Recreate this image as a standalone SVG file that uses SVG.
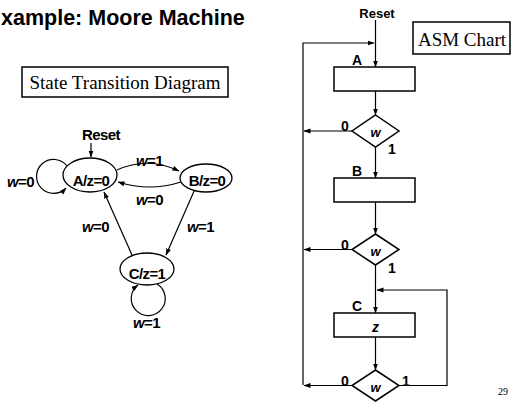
<svg xmlns="http://www.w3.org/2000/svg" width="513" height="406" viewBox="0 0 513 406">
<defs>
<marker id="ah" markerWidth="7" markerHeight="6" refX="6.5" refY="3" orient="auto" markerUnits="userSpaceOnUse">
<path d="M0,0.5 L7,3 L0,5.5 Z" fill="#000"/>
</marker>
</defs>
<style>
.ln{fill:none;stroke:#000;stroke-width:1.2}
.bx{fill:#fff;stroke:#000;stroke-width:1.5}
.st{fill:#fff;stroke:#000;stroke-width:1.3}
.ar{marker-end:url(#ah)}
.t{font-family:"Liberation Sans",Arial,sans-serif;font-weight:bold;fill:#000}
.s{font-size:15px;letter-spacing:-0.6px}
.a{font-size:14px}
.tm{font-family:"Liberation Serif","Times New Roman",serif;fill:#000}
.i{font-style:italic}
.m{text-anchor:middle}
</style>
<rect width="513" height="406" fill="#fff"/>
<text class="t" x="1" y="25" font-size="21.5">xample: Moore Machine</text>

<g id="std-title">
<rect x="22" y="67" width="206" height="30" fill="#fff" stroke="#000" stroke-width="1.5"/>
<text class="tm m" x="125" y="89" font-size="19">State Transition Diagram</text>
</g>

<g id="state-connectors">
<text class="t s m" x="101" y="140">Reset</text>
<path class="ln ar" d="M91,143 V157"/>
<path class="ln ar" d="M67,166 A17,17 0 1 0 66,188"/>
<path class="ln ar" d="M117,170 Q148,156 179,171"/>
<path class="ln ar" d="M181,182 Q150,192 118,182"/>
<path class="ln ar" d="M195,189 L166,255"/>
<path class="ln ar" d="M132,255 L104,192"/>
<path class="ln ar" d="M157,284 A17,17 0 1 1 138,285"/>
</g>
<g id="state-labels">
<text class="t s" x="7" y="187"><tspan class="i">w</tspan>=0</text>
<text class="t s" x="136" y="166"><tspan class="i">w</tspan>=1</text>
<text class="t s" x="136" y="205"><tspan class="i">w</tspan>=0</text>
<text class="t s" x="82" y="232"><tspan class="i">w</tspan>=0</text>
<text class="t s" x="187" y="232"><tspan class="i">w</tspan>=1</text>
<text class="t s" x="133" y="328"><tspan class="i">w</tspan>=1</text>
</g>
<g id="stateA">
<ellipse class="st" cx="90" cy="175" rx="27" ry="17"/>
<text class="t s m" x="91" y="186">A/z=0</text>
</g>
<g id="stateB">
<ellipse class="st" cx="206" cy="178" rx="26" ry="14"/>
<text class="t s m" x="207" y="186">B/z=0</text>
</g>
<g id="stateC">
<ellipse class="st" cx="147" cy="269" rx="27" ry="16"/>
<text class="t s m" x="147" y="279">C/z=1</text>
</g>

<g id="asm-title">
<rect x="413" y="22" width="97" height="32" fill="#fff" stroke="#000" stroke-width="1.5"/>
<text class="tm m" x="462" y="46" font-size="19">ASM Chart</text>
</g>

<g id="asm-connectors">
<text class="t m" x="377" y="18" font-size="13">Reset</text>
<path class="ln ar" d="M375.5,20 V67"/>
<path class="ln ar" d="M303,385 V43 H374"/>
<path class="ln ar" d="M375.5,91 V115"/>
<path class="ln ar" d="M352,131 H304"/>
<path class="ln ar" d="M375.5,147 V178"/>
<path class="ln ar" d="M375.5,202 V234"/>
<path class="ln ar" d="M352,249.5 H304"/>
<path class="ln ar" d="M375.5,265 V313"/>
<path class="ln ar" d="M399,385.5 H447 V290 H377"/>
<path class="ln ar" d="M375.5,337 V370"/>
<path class="ln ar" d="M352,385.5 H304"/>
</g>
<g id="asmA">
<rect class="bx" x="334" y="67" width="81" height="24"/>
<text class="t a m" x="357" y="65">A</text>
</g>
<g id="dec1">
<polygon class="bx" points="375.5,115 399,131 375.5,147 352,131"/>
<text class="t i m" x="375.5" y="137" font-size="13">w</text>
<text class="t a m" x="345" y="131">0</text>
<text class="t a m" x="392" y="154">1</text>
</g>
<g id="asmB">
<rect class="bx" x="334" y="178" width="81" height="24"/>
<text class="t a m" x="357" y="176">B</text>
</g>
<g id="dec2">
<polygon class="bx" points="375.5,234 399,249.5 375.5,265 352,249.5"/>
<text class="t i m" x="375.5" y="256" font-size="13">w</text>
<text class="t a m" x="345" y="250">0</text>
<text class="t a m" x="392" y="273">1</text>
</g>
<g id="asmC">
<rect class="bx" x="334" y="313" width="81" height="24"/>
<text class="t a m" x="357" y="311">C</text>
<text class="t i m" x="375.5" y="332" font-size="14">z</text>
</g>
<g id="dec3">
<polygon class="bx" points="375.5,370 399,385.5 375.5,401 352,385.5"/>
<text class="t i m" x="375.5" y="392" font-size="13">w</text>
<text class="t a m" x="345" y="386">0</text>
<text class="t a m" x="406" y="386">1</text>
</g>
<text class="tm" x="498" y="395" font-size="10">29</text>
</svg>
